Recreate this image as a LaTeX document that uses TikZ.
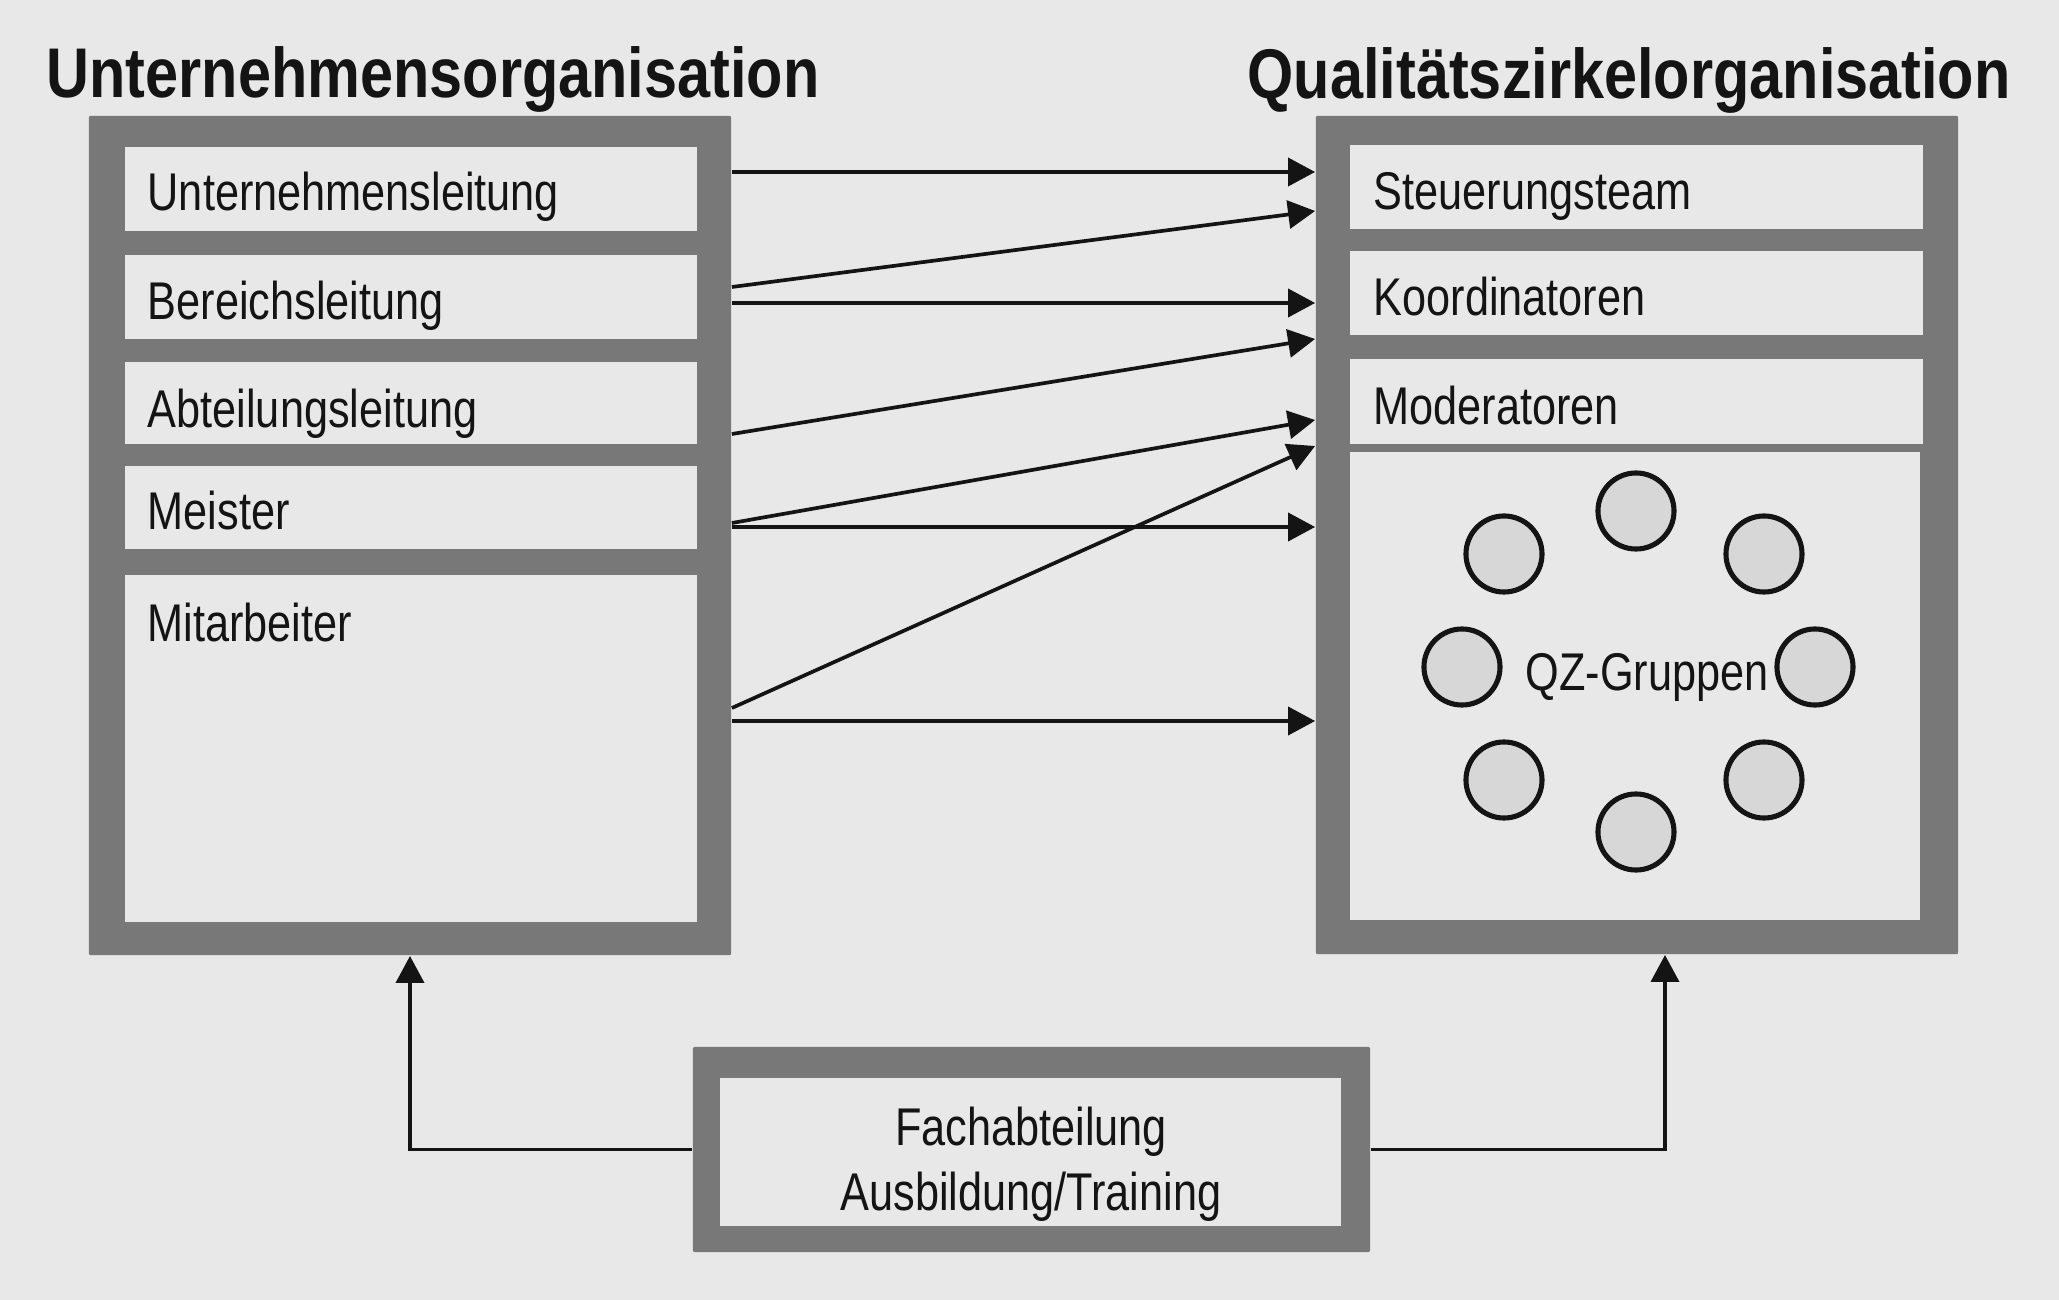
\documentclass[tikz,border=0pt]{standalone}
\usepackage{fontspec}
\setmainfont{Liberation Sans}[FakeStretch=0.815]
\newfontfamily\titlefont{Liberation Sans}[FakeStretch=0.845]
\usetikzlibrary{arrows.meta}
\definecolor{bg}{HTML}{E8E8E8}
\definecolor{framegray}{HTML}{787878}
\definecolor{circgray}{HTML}{D7D7D7}
\definecolor{ink}{HTML}{141414}
\tikzset{
  outerbox/.style={draw=none, fill=framegray, rounded corners=0.02cm, inner sep=0pt},
  innerbox/.style={draw=none, fill=bg, inner sep=0pt},
  lbl/.style={anchor=base west, inner sep=0pt, text=ink, font=\fontsize{15.1pt}{18.5pt}\selectfont},
  ctrlbl/.style={anchor=base, inner sep=0pt, text=ink, font=\fontsize{15.1pt}{18.5pt}\selectfont},
  ttl/.style={anchor=base west, inner sep=0pt, text=ink, font=\titlefont\bfseries\fontsize{20pt}{24pt}\selectfont},
  arr/.style={draw=ink, line width=1.05pt, -{Triangle[length=0.27cm,width=0.28cm]}},
  grp/.style={circle, draw=ink, fill=circgray, line width=1.45pt, minimum size=0.76cm, inner sep=0pt}
}
\begin{document}
\begin{tikzpicture}[x=0.01cm,y=-0.01cm]
\fill[bg] (0,0) rectangle (2059,1300);
\useasboundingbox (0,0) rectangle (2059,1300);

% titles
\node[ttl] (t1) at (46,98) {Unternehmensorganisation};
\node[ttl] (t2) at (1247,99) {Qualitätszirkelorganisation};

% left organisation
\node[outerbox, minimum width=6.42cm, minimum height=8.39cm] (lout) at (410,535.5) {};
\node[innerbox, minimum width=5.72cm, minimum height=0.84cm] (ul) at (411,189) {};
\node[innerbox, minimum width=5.72cm, minimum height=0.84cm] (bl) at (411,297) {};
\node[innerbox, minimum width=5.72cm, minimum height=0.82cm] (al) at (411,403) {};
\node[innerbox, minimum width=5.72cm, minimum height=0.83cm] (me) at (411,507.5) {};
\node[innerbox, minimum width=5.72cm, minimum height=3.47cm] (ma) at (411,748.5) {};
\node[lbl] (ult) at (147,211) {Unternehmensleitung};
\node[lbl] (blt) at (147,320) {Bereichsleitung};
\node[lbl] (alt) at (147,428) {Abteilungsleitung};
\node[lbl] (met) at (147,530) {Meister};
\node[lbl] (mat) at (147,642) {Mitarbeiter};

% right organisation
\node[outerbox, minimum width=6.42cm, minimum height=8.38cm] (rout) at (1637,535) {};
\node[innerbox, minimum width=5.73cm, minimum height=0.84cm] (st) at (1636.5,187) {};
\node[innerbox, minimum width=5.73cm, minimum height=0.84cm] (ko) at (1636.5,293) {};
\node[innerbox, minimum width=5.73cm, minimum height=0.85cm] (mo) at (1636.5,401.5) {};
\node[innerbox, minimum width=5.70cm, minimum height=4.68cm] (qz) at (1635,686) {};
\node[lbl] (stt) at (1373,210) {Steuerungsteam};
\node[lbl] (kot) at (1373,316) {Koordinatoren};
\node[lbl] (mot) at (1373,425) {Moderatoren};

% QZ groups
\node[grp] (g1) at (1636,511) {};
\node[grp] (g2) at (1764,554) {};
\node[grp] (g3) at (1815,667) {};
\node[grp] (g4) at (1764,780) {};
\node[grp] (g5) at (1636,832) {};
\node[grp] (g6) at (1504,780) {};
\node[grp] (g7) at (1462,667) {};
\node[grp] (g8) at (1504,554) {};
\node[ctrlbl] (qzt) at (1647,690) {QZ-Gruppen};

% training department
\node[outerbox, minimum width=6.77cm, minimum height=2.05cm] (bout) at (1031.5,1149.5) {};
\node[innerbox, minimum width=6.21cm, minimum height=1.48cm] (bin) at (1030.5,1152) {};
\node[ctrlbl] (fa1) at (1031,1145) {Fachabteilung};
\node[ctrlbl] (fa2) at (1031,1210) {Ausbildung/Training};

% arrows between organisations
\draw[arr] (lout.east |- 0,172) -- (rout.west |- 0,172);
\draw[arr] (lout.east |- 0,287) -- (rout.west |- 0,211);
\draw[arr] (lout.east |- 0,303) -- (rout.west |- 0,303);
\draw[arr] (lout.east |- 0,434) -- (rout.west |- 0,339);
\draw[arr] (lout.east |- 0,523) -- (rout.west |- 0,420);
\draw[arr] (lout.east |- 0,527) -- (rout.west |- 0,527);
\draw[arr] (lout.east |- 0,708) -- (rout.west |- 0,446);
\draw[arr] (lout.east |- 0,721) -- (rout.west |- 0,721);

% training connectors
\draw[arr] (bout.west) -| (lout.south);
\draw[arr] (bout.east) -| (1665,0 |- rout.south);
\end{tikzpicture}
\end{document}
